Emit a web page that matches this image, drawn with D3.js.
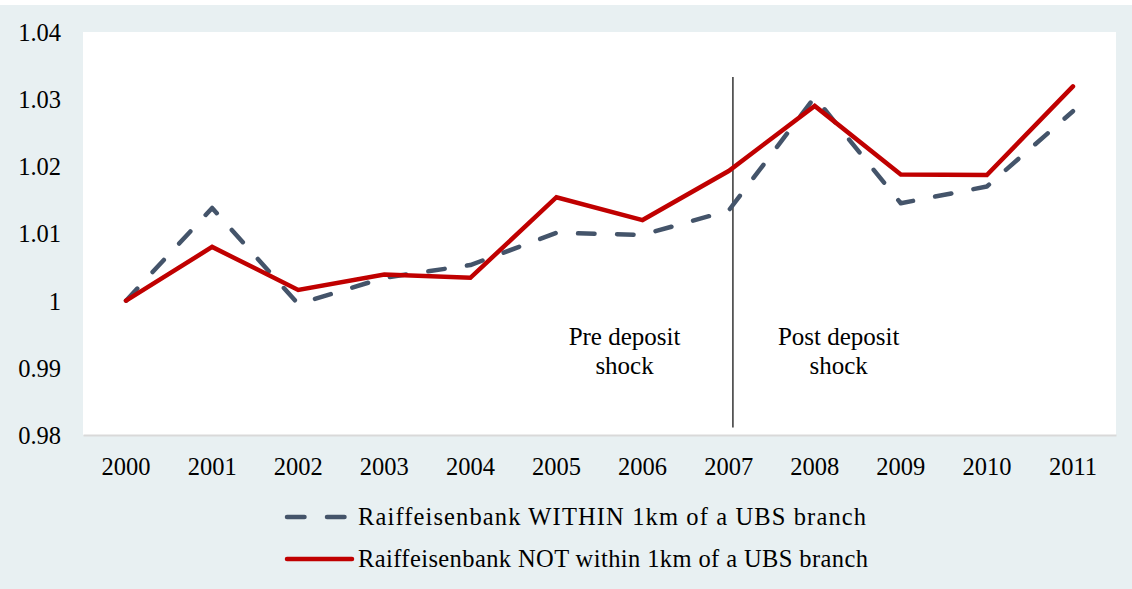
<!DOCTYPE html>
<html>
<head>
<meta charset="utf-8">
<script src="https://cdn.jsdelivr.net/npm/d3@7"></script>
<style>
  html, body { margin: 0; padding: 0; background: #ffffff; }
  svg { display: block; }
  text { font-family: "Liberation Serif", "Times New Roman", serif; fill: #000; }
</style>
</head>
<body>
<svg id="chart" width="1132" height="589"></svg>
<script>
// Years on the x axis
const years = ["2000","2001","2002","2003","2004","2005","2006","2007","2008","2009","2010","2011"];
// Index of deposits, Raiffeisen branches within 1km of a UBS branch
const withinValues = [1.0000, 1.0138, 0.9995, 1.0034, 1.0053, 1.0101, 1.0098, 1.0134, 1.0303, 1.0145, 1.0170, 1.0282];
// Index of deposits, Raiffeisen branches not within 1km of a UBS branch
const notWithinValues = [1.0000, 1.0080, 1.0016, 1.0039, 1.0034, 1.0154, 1.0120, 1.0193, 1.0290, 1.0188, 1.0187, 1.0319];
// Y axis ticks
const yTicks = [0.98, 0.99, 1.00, 1.01, 1.02, 1.03, 1.04];
const seriesNames = ["Raiffeisenbank WITHIN 1km of a UBS branch", "Raiffeisenbank NOT within 1km of a UBS branch"];
const shockYear = "2007";
const annotations = [["Pre deposit", "shock"], ["Post deposit", "shock"]];

const svg = d3.select("#chart");
const W = 1132, H = 589;
const plot = { left: 83, right: 1116, top: 32, bottom: 435 };
const fontSize = 24.5;

// Outer panel
svg.append("rect").attr("x", 0).attr("y", 5).attr("width", W).attr("height", H - 5).attr("fill", "#e8f0f2");
// Plot area
svg.append("rect")
  .attr("x", plot.left).attr("y", plot.top)
  .attr("width", plot.right - plot.left).attr("height", plot.bottom - plot.top)
  .attr("fill", "#ffffff");

const x = d3.scaleBand().domain(years).range([plot.left, plot.right]);
const y = d3.scaleLinear().domain([0.98, 1.04]).range([plot.bottom, plot.top]);
const cx = d => x(d) + x.bandwidth() / 2;

// Y axis labels
const yAxis = d3.axisLeft(y).tickValues(yTicks).tickSize(0).tickPadding(0)
  .tickFormat(d => d3.format(".2f")(d).replace(/\.?0+$/, "") || "0");
const gy = svg.append("g").attr("transform", `translate(61,0)`).call(yAxis);
gy.select(".domain").remove();
gy.selectAll("text").attr("font-size", fontSize).attr("fill", "#000").attr("dy", "0.34em");

// X axis
const xAxis = d3.axisBottom(x).tickSize(0).tickPadding(23);
const gx = svg.append("g").attr("transform", `translate(0,${plot.bottom})`).call(xAxis);
gx.select(".domain").attr("stroke", "#d9d9d9").attr("stroke-width", 2);
gx.selectAll("text").attr("font-size", fontSize).attr("fill", "#000");

// Shock divider
const shockX = cx(shockYear) + x.bandwidth() * 0.05;
svg.append("line")
  .attr("x1", shockX).attr("x2", shockX)
  .attr("y1", y(1.0333)).attr("y2", y(0.9811))
  .attr("stroke", "#000").attr("stroke-width", 1.2);

// Annotations either side of the divider
const annX = [cx("2006") - 18, cx("2008") + 24];
annotations.forEach((lines, i) => {
  const t = svg.append("text").attr("text-anchor", "middle").attr("font-size", 25);
  lines.forEach((s, j) => {
    t.append("tspan").attr("x", annX[i]).attr("y", y(0.99535) + 13.5 + j * 29).text(s);
  });
});

const line = d3.line().x((d, i) => cx(years[i])).y(d => y(d));

// Within series: dashed
svg.append("path").datum(withinValues)
  .attr("d", line).attr("fill", "none")
  .attr("stroke", "#44546a").attr("stroke-width", 4.5)
  .attr("stroke-dasharray", "16.5,22.5").attr("stroke-linecap", "round").attr("stroke-linejoin", "round");

// Not-within series: solid red
svg.append("path").datum(notWithinValues)
  .attr("d", line).attr("fill", "none")
  .attr("stroke", "#c00000").attr("stroke-width", 4.5)
  .attr("stroke-linecap", "round").attr("stroke-linejoin", "miter");

// Legend
const legend = svg.append("g");
const legendRows = [
  { y: 517, stroke: "#44546a", dash: "17.5,22.5", x2: 348, len: 508 },
  { y: 559, stroke: "#c00000", dash: null, x2: 352, len: 510 }
];
legendRows.forEach((r, i) => {
  const l = legend.append("line")
    .attr("x1", 287).attr("x2", r.x2).attr("y1", r.y).attr("y2", r.y)
    .attr("stroke", r.stroke).attr("stroke-width", 4.5).attr("stroke-linecap", "round");
  if (r.dash) l.attr("stroke-dasharray", r.dash);
  legend.append("text").attr("x", 358).attr("y", r.y).attr("dy", "0.34em")
    .attr("font-size", fontSize)
    .attr("textLength", r.len).attr("lengthAdjust", "spacing")
    .text(seriesNames[i]);
});
</script>
</body>
</html>
